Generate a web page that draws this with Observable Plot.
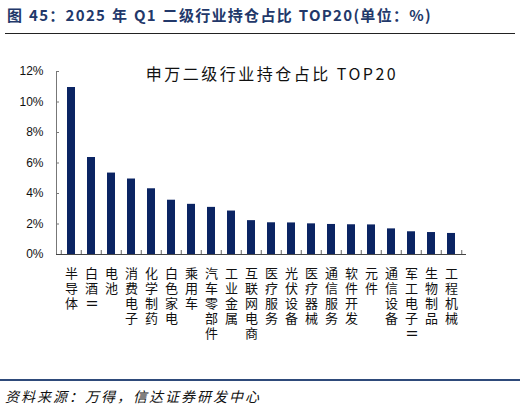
<!DOCTYPE html>
<html>
<head>
<meta charset="utf-8">
<script src="https://cdn.jsdelivr.net/npm/d3@7"></script>
<script src="https://cdn.jsdelivr.net/npm/@observablehq/plot@0.6"></script>
<style>
  html, body { margin: 0; padding: 0; background: #fff; width: 520px; height: 410px; overflow: hidden; }
  body { position: relative; font-family: "Noto Sans CJK SC", "Liberation Sans", sans-serif; }
  #title { position: absolute; left: 7px; top: 4px; font-size: 15px; font-weight: bold; color: #22386a; white-space: nowrap; letter-spacing: 1.3px; word-spacing: 1px; }
  #rule1 { position: absolute; left: 5px; top: 33px; width: 510px; height: 1px; background: #222; }
  #chart { position: absolute; left: 0; top: 40px; }
  #ctitle { position: absolute; left: 0; width: 544px; top: 61px; text-align: center; font-size: 16px; color: #111; letter-spacing: 2.5px; white-space: nowrap; }
  #rule2 { position: absolute; left: 0; top: 379px; width: 520px; height: 2px; background: #2e4a7a; }
  #source { position: absolute; left: 5px; top: 386px; font-size: 14px; font-style: italic; color: #111; letter-spacing: 2px; white-space: nowrap; }
</style>
</head>
<body>
<div id="title">图 45：2025 年 Q1 二级行业持仓占比 TOP20(单位：%)</div>
<div id="rule1"></div>
<div id="chart"></div>
<div id="ctitle">申万二级行业持仓占比 TOP20</div>
<div id="rule2"></div>
<div id="source">资料来源：万得，信达证券研发中心</div>
<script>
const categories = ["半导体","白酒Ⅱ","电池","消费电子","化学制药","白色家电","乘用车","汽车零部件","工业金属","互联网电商","医疗服务","光伏设备","医疗器械","通信服务","软件开发","元件","通信设备","军工电子Ⅱ","生物制品","工程机械"];
const shares = [10.95, 6.36, 5.34, 4.95, 4.31, 3.56, 3.29, 3.09, 2.85, 2.22, 2.08, 2.07, 2.01, 1.97, 1.95, 1.94, 1.68, 1.49, 1.44, 1.38];
const yTicks = [0, 2, 4, 6, 8, 10, 12];

const data = categories.map((c, i) => ({cat: c, v: shares[i]}));
const chars = categories.flatMap(c => Array.from(c).map((ch, i) => ({cat: c, ch, i})));

const W = 520, H = 330, mL = 56, mR = 54, mT = 31, mB = 116;
const step = (W - mL - mR) / categories.length;
const navy = "#0b2463";

const charMarks = d3.range(5).map(i =>
  Plot.text(chars.filter(d => d.i === i), {
    x: "cat", text: "ch", frameAnchor: "bottom", lineAnchor: "middle",
    dy: 19 + i * 15, fontSize: 13, fill: "#111",
    rotate: d => d.ch === "Ⅱ" ? 90 : 0
  })
);

const chart = Plot.plot({
  width: W, height: H,
  marginLeft: mL, marginRight: mR, marginTop: mT, marginBottom: mB,
  style: {fontFamily: "'Noto Sans CJK SC', 'Liberation Sans', sans-serif", background: "#fff"},
  x: {domain: categories, paddingInner: 0.6, paddingOuter: 0.3, axis: null, label: null},
  y: {domain: [0, 12], axis: null, label: null},
  marks: [
    Plot.barY(data, {x: "cat", y: "v", fill: navy}),
    Plot.axisY({ticks: yTicks, tickFormat: d => d + "%", tickSize: 0, tickPadding: 13, fontSize: 12, fontFamily: "'Liberation Sans', Arial, sans-serif", fill: "#111", label: null}),
    Plot.axisY({ticks: yTicks, tickSize: -3, text: null, stroke: "#777", strokeOpacity: 1, label: null}),
    Plot.frame({anchor: "left", stroke: "#777"}),
    Plot.ruleY([0], {stroke: "#444"}),
    Plot.axisX({tickSize: -4, dx: -step / 2, text: null, stroke: "#666", strokeOpacity: 1, anchor: "bottom", label: null}),
    Plot.axisX({ticks: [categories[categories.length - 1]], tickSize: -4, dx: step / 2, text: null, stroke: "#666", strokeOpacity: 1, anchor: "bottom", label: null}),
    ...charMarks
  ]
});
document.getElementById("chart").appendChild(chart);
</script>
</body>
</html>
